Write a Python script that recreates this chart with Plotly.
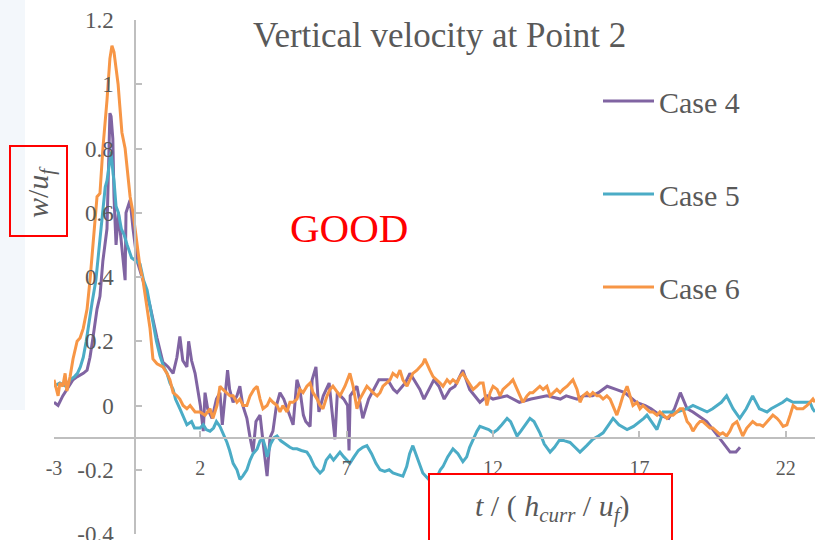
import plotly.graph_objects as go

# ---------------- data (t / (h_curr/u_f), w/u_f) ----------------
case4_points = [
    (-3.0, 0.01), (-2.86, 0.0), (-2.7, 0.03), (-2.56, 0.05), (-2.35, 0.08), (-2.2, 0.09),
    (-2.0, 0.10), (-1.87, 0.11), (-1.77, 0.15), (-1.67, 0.21), (-1.53, 0.30), (-1.43, 0.34),
    (-1.33, 0.45), (-1.19, 0.55), (-1.15, 0.70), (-1.12, 0.83), (-1.09, 0.91), (-1.05, 0.90),
    (-0.99, 0.83), (-0.95, 0.65), (-0.88, 0.50), (-0.8, 0.60), (-0.68, 0.48), (-0.57, 0.39),
    (-0.54, 0.60), (-0.4, 0.64), (-0.3, 0.55), (-0.16, 0.45), (0.04, 0.39), (0.28, 0.31),
    (0.52, 0.21), (0.72, 0.135), (0.9, 0.12), (1.07, 0.10), (1.2, 0.15), (1.3, 0.215),
    (1.4, 0.14), (1.54, 0.12), (1.6, 0.20), (1.7, 0.14), (1.82, 0.10), (1.9, 0.06),
    (2.0, 0.0), (2.1, -0.08), (2.16, 0.04), (2.25, -0.01), (2.4, -0.04), (2.55, 0.02),
    (2.67, 0.04), (2.75, -0.06), (2.85, 0.05), (2.93, 0.11), (3.0, 0.05), (3.12, 0.01),
    (3.25, 0.03), (3.35, 0.06), (3.45, 0.0), (3.59, -0.04), (3.7, -0.10), (3.8, -0.145),
    (3.9, -0.05), (4.04, -0.03), (4.15, -0.12), (4.28, -0.22), (4.38, -0.10), (4.48, -0.08),
    (4.6, 0.0), (4.72, 0.04), (4.85, 0.02), (4.96, -0.01), (5.06, -0.03), (5.17, -0.06),
    (5.3, 0.08), (5.4, 0.05), (5.52, -0.03), (5.6, -0.05), (5.75, -0.065), (5.82, 0.08),
    (5.95, 0.12), (6.05, -0.02), (6.2, 0.03), (6.4, 0.07), (6.5, -0.02), (6.6, -0.105),
    (6.68, 0.04), (6.9, 0.02), (7.03, 0.0), (7.08, -0.14), (7.12, 0.03), (7.35, 0.06),
    (7.55, -0.04), (7.75, 0.02), (8.1, 0.08), (8.4, 0.08), (8.6, 0.05), (8.72, 0.04),
    (9.0, 0.07), (9.16, 0.10), (9.3, 0.08), (9.5, 0.05), (9.64, 0.02), (9.85, 0.06),
    (9.98, 0.08), (10.15, 0.06), (10.33, 0.02), (10.53, 0.05), (10.7, 0.06), (10.97, 0.11),
    (11.2, 0.05), (11.55, 0.01), (11.8, 0.03), (12.0, 0.02), (12.48, 0.03), (12.9, 0.01),
    (13.3, 0.02), (13.84, 0.03), (14.3, 0.02), (14.5, 0.03), (14.87, 0.02), (15.1, 0.03),
    (15.4, 0.03), (15.6, 0.04), (15.9, 0.06), (16.2, 0.05), (16.5, 0.04), (16.9, 0.01),
    (17.2, 0.0), (17.4, -0.01), (17.7, -0.03), (18.0, -0.04), (18.2, -0.01), (18.4, 0.04),
    (18.63, -0.01), (18.83, -0.02), (19.3, -0.05), (19.6, -0.085), (19.85, -0.115),
    (20.1, -0.145), (20.3, -0.145), (20.44, -0.13),
]

case5_points = [
    (-3.0, 0.06), (-2.8, 0.07), (-2.6, 0.06), (-2.45, 0.08), (-2.3, 0.09), (-2.2, 0.10),
    (-2.1, 0.12), (-2.0, 0.15), (-1.9, 0.20), (-1.84, 0.24), (-1.7, 0.32), (-1.57, 0.39),
    (-1.43, 0.52), (-1.33, 0.62), (-1.25, 0.68), (-1.19, 0.70), (-1.12, 0.75), (-1.05, 0.79),
    (-0.98, 0.72), (-0.95, 0.70), (-0.88, 0.62), (-0.8, 0.60), (-0.7, 0.55), (-0.6, 0.53),
    (-0.5, 0.50), (-0.35, 0.46), (-0.2, 0.45), (-0.06, 0.44), (0.06, 0.39), (0.18, 0.36),
    (0.3, 0.30), (0.38, 0.26), (0.5, 0.20), (0.62, 0.155), (0.75, 0.12), (0.86, 0.10),
    (0.96, 0.07), (1.07, 0.05), (1.15, 0.02), (1.3, -0.01), (1.4, -0.03), (1.54, -0.06),
    (1.7, -0.05), (1.8, -0.07), (1.99, -0.07), (2.1, -0.06), (2.2, -0.075), (2.33, -0.08),
    (2.45, -0.07), (2.55, -0.05), (2.67, -0.065), (2.8, -0.09), (2.91, -0.115), (3.0, -0.14),
    (3.12, -0.18), (3.25, -0.20), (3.35, -0.23), (3.45, -0.22), (3.59, -0.20), (3.7, -0.17),
    (3.8, -0.15), (3.94, -0.135), (4.04, -0.11), (4.14, -0.105), (4.22, -0.13), (4.28, -0.16),
    (4.4, -0.12), (4.52, -0.10), (4.62, -0.095), (4.75, -0.11), (4.96, -0.125), (5.06, -0.13),
    (5.17, -0.135), (5.3, -0.135), (5.45, -0.14), (5.64, -0.145), (5.75, -0.16), (5.9, -0.19),
    (6.09, -0.21), (6.2, -0.20), (6.3, -0.17), (6.43, -0.155), (6.55, -0.17), (6.77, -0.145),
    (6.9, -0.16), (7.11, -0.18), (7.25, -0.16), (7.4, -0.14), (7.55, -0.13), (7.69, -0.125),
    (7.85, -0.15), (8.0, -0.18), (8.14, -0.20), (8.3, -0.205), (8.45, -0.20), (8.58, -0.21),
    (8.75, -0.215), (8.92, -0.22), (9.05, -0.19), (9.15, -0.15), (9.26, -0.125), (9.4, -0.16),
    (9.5, -0.19), (9.6, -0.21), (9.75, -0.225), (9.95, -0.245), (10.1, -0.22), (10.2, -0.20),
    (10.29, -0.19), (10.45, -0.16), (10.63, -0.135), (10.8, -0.15), (10.97, -0.175),
    (11.1, -0.16), (11.2, -0.13), (11.32, -0.105), (11.45, -0.08), (11.55, -0.065),
    (11.7, -0.07), (11.85, -0.075), (12.0, -0.085), (12.15, -0.075), (12.3, -0.06),
    (12.48, -0.04), (12.6, -0.05), (12.7, -0.07), (12.82, -0.095), (12.95, -0.08),
    (13.1, -0.06), (13.26, -0.04), (13.4, -0.05), (13.6, -0.085), (13.75, -0.12),
    (13.95, -0.145), (14.1, -0.13), (14.29, -0.105), (14.45, -0.11), (14.63, -0.115),
    (14.8, -0.13), (14.97, -0.145), (15.2, -0.125), (15.41, -0.105), (15.6, -0.095),
    (15.76, -0.085), (15.95, -0.06), (16.1, -0.04), (16.3, -0.06), (16.58, -0.075),
    (16.8, -0.065), (17.02, -0.05), (17.15, -0.04), (17.26, -0.03), (17.4, -0.05),
    (17.6, -0.075), (17.81, -0.02), (18.0, -0.02), (18.28, -0.02), (18.45, -0.015),
    (18.63, -0.01), (18.83, 0.0), (19.05, -0.01), (19.31, -0.02), (19.5, -0.01),
    (19.65, 0.0), (19.8, 0.01), (19.98, 0.03), (20.2, -0.01), (20.43, -0.04),
    (20.65, -0.01), (20.87, 0.03), (21.1, -0.01), (21.36, -0.02), (21.5, -0.01),
    (21.7, 0.0), (21.9, 0.01), (22.04, 0.02), (22.25, 0.01), (22.49, 0.01), (22.7, 0.01),
    (22.83, 0.01), (22.92, -0.01), (23.0, -0.02),
]

case6_points = [
    (-3.0, 0.08), (-2.86, 0.03), (-2.8, 0.07), (-2.7, 0.06), (-2.62, 0.10), (-2.56, 0.045),
    (-2.45, 0.09), (-2.35, 0.145), (-2.21, 0.20), (-2.11, 0.21), (-2.0, 0.24), (-1.87, 0.30),
    (-1.77, 0.39), (-1.67, 0.50), (-1.53, 0.65), (-1.43, 0.66), (-1.33, 0.80), (-1.19, 0.95),
    (-1.09, 1.08), (-1.02, 1.12), (-0.95, 1.10), (-0.88, 1.05), (-0.81, 1.00), (-0.75, 0.93),
    (-0.68, 0.85), (-0.57, 0.80), (-0.51, 0.75), (-0.4, 0.65), (-0.3, 0.60), (-0.16, 0.50),
    (-0.06, 0.43), (0.04, 0.39), (0.18, 0.30), (0.28, 0.24), (0.38, 0.145), (0.52, 0.13),
    (0.72, 0.12), (0.86, 0.10), (0.96, 0.08), (1.07, 0.04), (1.2, 0.03), (1.3, 0.02),
    (1.41, 0.0), (1.54, -0.01), (1.65, 0.0), (1.82, -0.02), (1.99, -0.02), (2.16, -0.03),
    (2.33, -0.01), (2.43, -0.04), (2.57, 0.0), (2.67, 0.06), (2.77, 0.05), (2.91, 0.04),
    (3.01, 0.03), (3.12, 0.03), (3.25, 0.01), (3.35, 0.02), (3.46, 0.0), (3.59, 0.0),
    (3.7, 0.03), (3.83, 0.05), (3.94, 0.06), (4.04, 0.02), (4.14, -0.01), (4.28, 0.0),
    (4.38, 0.02), (4.48, 0.01), (4.62, 0.0), (4.72, -0.02), (4.82, 0.0), (4.96, -0.02),
    (5.06, 0.01), (5.17, 0.01), (5.3, 0.02), (5.4, 0.05), (5.51, 0.04), (5.64, 0.06),
    (5.75, 0.07), (5.85, 0.04), (5.99, 0.02), (6.09, 0.0), (6.19, -0.01), (6.33, 0.03),
    (6.43, 0.05), (6.53, 0.06), (6.67, 0.04), (6.77, 0.03), (6.94, 0.06), (7.11, 0.10),
    (7.22, 0.06), (7.35, -0.01), (7.45, 0.02), (7.56, 0.04), (7.69, 0.06), (7.8, 0.05),
    (7.9, 0.04), (8.04, 0.03), (8.14, 0.04), (8.24, 0.06), (8.38, 0.07), (8.48, 0.08),
    (8.58, 0.10), (8.72, 0.09), (8.82, 0.11), (8.92, 0.08), (9.06, 0.06), (9.16, 0.08),
    (9.26, 0.10), (9.4, 0.11), (9.5, 0.12), (9.6, 0.13), (9.67, 0.145), (9.78, 0.12),
    (9.84, 0.11), (9.95, 0.09), (10.08, 0.08), (10.19, 0.07), (10.29, 0.06), (10.43, 0.08),
    (10.53, 0.07), (10.63, 0.08), (10.77, 0.07), (10.87, 0.09), (10.97, 0.10), (11.11, 0.08),
    (11.21, 0.07), (11.32, 0.05), (11.45, 0.06), (11.55, 0.07), (11.66, 0.07), (11.79, 0.0),
    (11.9, 0.04), (12.0, 0.06), (12.14, 0.05), (12.24, 0.03), (12.34, 0.05), (12.48, 0.06),
    (12.58, 0.07), (12.68, 0.08), (12.82, 0.05), (12.92, 0.03), (13.02, 0.01), (13.16, 0.03),
    (13.26, 0.04), (13.36, 0.04), (13.5, 0.05), (13.6, 0.06), (13.71, 0.05), (13.84, 0.06),
    (13.95, 0.03), (14.05, 0.04), (14.18, 0.05), (14.29, 0.04), (14.39, 0.05), (14.53, 0.06),
    (14.63, 0.07), (14.73, 0.08), (14.87, 0.05), (14.97, 0.01), (15.07, 0.03), (15.21, 0.04),
    (15.31, 0.03), (15.41, 0.04), (15.55, 0.03), (15.65, 0.03), (15.76, 0.02), (15.89, 0.03),
    (16.0, 0.02), (16.1, 0.0), (16.23, -0.03), (16.34, 0.0), (16.44, 0.03), (16.58, 0.06),
    (16.68, 0.03), (16.78, 0.0), (16.92, 0.01), (17.02, -0.01), (17.12, 0.0), (17.26, -0.01),
    (17.36, -0.02), (17.46, -0.02), (17.6, -0.03), (17.7, -0.02), (17.81, -0.03), (17.94, -0.04),
    (18.05, -0.03), (18.15, -0.03), (18.28, -0.02), (18.39, -0.01), (18.49, -0.01), (18.63, -0.05),
    (18.73, -0.06), (18.83, -0.08), (18.97, -0.06), (19.07, -0.05), (19.17, -0.05), (19.31, -0.06),
    (19.41, -0.07), (19.51, -0.07), (19.65, -0.08), (19.75, -0.09), (19.85, -0.085), (19.98, -0.095),
    (20.09, -0.08), (20.19, -0.06), (20.33, -0.05), (20.43, -0.07), (20.53, -0.095), (20.67, -0.07),
    (20.77, -0.06), (20.87, -0.05), (21.01, -0.06), (21.12, -0.06), (21.22, -0.065), (21.36, -0.05),
    (21.46, -0.04), (21.56, -0.03), (21.7, -0.04), (21.8, -0.05), (21.91, -0.065), (22.04, -0.06),
    (22.15, -0.03), (22.25, 0.0), (22.38, -0.01), (22.49, -0.01), (22.59, -0.01), (22.73, 0.0),
    (22.83, 0.01), (22.93, 0.02), (23.0, 0.01),
]

series_names = ["Case 4", "Case 5", "Case 6"]
series_colors = ["#8064A2", "#4BACC6", "#F79646"]
x_tickvals = [-3, 2, 7, 12, 17, 22]
x_ticktext = ["-3", "2", "7", "12", "17", "22"]
y_tickvals = [-0.4, -0.2, 0, 0.2, 0.4, 0.6, 0.8, 1.0, 1.2]
y_ticktext = ["-0.4", "-0.2", "0", "0.2", "0.4", "0.6", "0.8", "1", "1.2"]

# ---------------- figure ----------------
W, H = 815, 540
ML, MR, MT, MB = 54, 0, 20, 6
PW, PH = W - ML - MR, H - MT - MB
XR = [-3, 23.0]
YR = [-0.4, 1.2]


def px_to_paper_x(px):
    return (px - ML) / PW


def px_to_paper_y(py):
    return (H - MB - py) / PH


FONT = "Liberation Serif"
GRAY = "#595959"
AX = "#BFBFBF"

fig = go.Figure()
for pts, name, col, grp in zip([case4_points, case5_points, case6_points],
                               series_names, series_colors, ["g4", "g5", "g6"]):
    fig.add_trace(go.Scatter(
        x=[p[0] for p in pts], y=[p[1] for p in pts], mode="lines", name=name,
        legendgroup=grp, line=dict(color=col, width=3),
    ))

# y axis crosses x at about -0.22, x axis crosses y at -0.1
y_axis_pos = (-0.22 - XR[0]) / (XR[1] - XR[0])
x_axis_pos = (-0.1 - YR[0]) / (YR[1] - YR[0])

fig.update_layout(
    width=W, height=H,
    margin=dict(l=ML, r=MR, t=MT, b=MB, pad=0, autoexpand=False),
    paper_bgcolor="white", plot_bgcolor="white",
    font=dict(family=FONT, color=GRAY),
    xaxis=dict(
        range=XR, tickvals=x_tickvals, ticktext=x_ticktext, automargin=False,
        showgrid=False, zeroline=False, showline=True, linecolor=AX, linewidth=2,
        ticks="inside", ticklen=6, tickwidth=2, tickcolor=AX,
        anchor="free", position=x_axis_pos, ticklabeloverflow="allow",
        tickfont=dict(family=FONT, size=20, color=GRAY), ticklabelstandoff=12,
    ),
    yaxis=dict(
        range=YR, tickvals=y_tickvals, ticktext=y_ticktext, automargin=False,
        showgrid=False, zeroline=False, showline=True, linecolor=AX, linewidth=2,
        ticks="inside", ticklen=6, tickwidth=2, tickcolor=AX,
        anchor="free", position=y_axis_pos, ticklabeloverflow="allow",
        tickfont=dict(family=FONT, size=23, color=GRAY), ticklabelstandoff=16,
    ),
    showlegend=True,
    legend=dict(
        x=px_to_paper_x(598), y=px_to_paper_y(75), xanchor="left", yanchor="top",
        bgcolor="rgba(0,0,0,0)", font=dict(family=FONT, size=30, color=GRAY),
        tracegroupgap=51, itemwidth=51,
    ),
)

# light strip on the left edge
fig.add_shape(type="rect", xref="paper", yref="paper",
              x0=px_to_paper_x(0), x1=px_to_paper_x(25),
              y0=px_to_paper_y(410), y1=px_to_paper_y(0),
              fillcolor="#F3F7FB", line=dict(width=0), layer="below")

# red boxes around axis titles
fig.add_shape(type="rect", xref="paper", yref="paper",
              x0=px_to_paper_x(10), x1=px_to_paper_x(67),
              y0=px_to_paper_y(236), y1=px_to_paper_y(146),
              line=dict(color="#FF0000", width=2), fillcolor="rgba(0,0,0,0)")
fig.add_shape(type="rect", xref="paper", yref="paper",
              x0=px_to_paper_x(429), x1=px_to_paper_x(672),
              y0=px_to_paper_y(548), y1=px_to_paper_y(474),
              line=dict(color="#FF0000", width=2), fillcolor="white")

fig.add_annotation(text="Vertical velocity at Point 2", xref="paper", yref="paper",
                   x=px_to_paper_x(439.5), y=px_to_paper_y(35),
                   xanchor="center", yanchor="middle", showarrow=False,
                   font=dict(family=FONT, size=35, color=GRAY))
fig.add_annotation(text="GOOD", xref="paper", yref="paper",
                   x=px_to_paper_x(349), y=px_to_paper_y(228),
                   xanchor="center", yanchor="middle", showarrow=False,
                   font=dict(family=FONT, size=41, color="#FF0000"))
fig.add_annotation(text="<i>w</i>/<i>u</i><sub><i>f</i></sub>", xref="paper", yref="paper",
                   x=px_to_paper_x(40), y=px_to_paper_y(192),
                   xanchor="center", yanchor="middle", showarrow=False, textangle=-90,
                   font=dict(family=FONT, size=30, color=GRAY))
fig.add_annotation(text="<i>t</i> / ( <i>h</i><sub><i>curr</i></sub> / <i>u</i><sub><i>f</i></sub>)",
                   xref="paper", yref="paper",
                   x=px_to_paper_x(552), y=px_to_paper_y(508),
                   xanchor="center", yanchor="middle", showarrow=False,
                   font=dict(family=FONT, size=30, color=GRAY))

fig.write_html("out.html")
